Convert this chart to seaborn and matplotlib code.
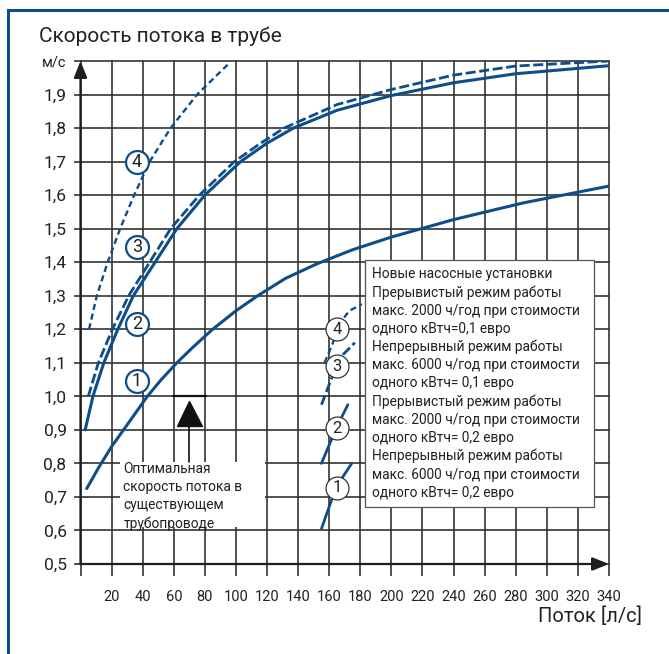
import matplotlib
matplotlib.use("Agg")
import matplotlib.pyplot as plt
from matplotlib.patches import Rectangle
import pandas as pd
import seaborn as sns

sns.set_style("white")
plt.rcParams["font.family"] = ["Roboto", "DejaVu Sans"]

# ---------------- data ----------------
flow_c1 = [4, 12, 20, 30, 43, 52, 62, 72, 85, 100, 114, 132, 152, 175, 200, 240, 285, 340]
speed_c1 = [0.725, 0.79, 0.85, 0.915, 1.00, 1.05, 1.10, 1.145, 1.20, 1.255, 1.30, 1.352,
            1.395, 1.437, 1.475, 1.527, 1.577, 1.627]

flow_c2 = [3, 8, 15, 24, 34, 48, 62, 80, 103, 120, 137, 165, 200, 240, 280, 340]
speed_c2 = [0.90, 1.00, 1.10, 1.20, 1.30, 1.40, 1.50, 1.60, 1.70, 1.755, 1.80, 1.853,
            1.897, 1.935, 1.962, 1.986]

flow_c3 = [5, 11.5, 20.5, 31, 44.5, 58, 76.5, 99, 115, 131, 165, 200, 240, 280, 340]
speed_c3 = [1.00, 1.10, 1.20, 1.30, 1.40, 1.50, 1.60, 1.70, 1.752, 1.80, 1.87, 1.915,
            1.958, 1.985, 2.0]

flow_c4 = [5.5, 10.5, 17.5, 25.5, 34.5, 44.5, 58, 75, 96]
speed_c4 = [1.20, 1.30, 1.40, 1.50, 1.60, 1.70, 1.80, 1.90, 1.995]

new_flow_1 = [155, 164.5, 174.5]
new_speed_1 = [0.605, 0.73, 0.80]
new_flow_2 = [155, 164.5, 172]
new_speed_2 = [0.80, 0.905, 0.975]
new_flow_3 = [155, 162, 169, 176.5]
new_speed_3 = [0.975, 1.06, 1.125, 1.16]
new_flow_4 = [157, 162, 167, 173, 181]
new_speed_4 = [1.10, 1.155, 1.22, 1.255, 1.275]

label_ids = ["1", "2", "3", "4"]
label_flow_left = [36.3, 36.3, 36.3, 36.3]
label_speed_left = [1.047, 1.215, 1.446, 1.70]
label_flow_right = [165, 165, 165, 165]
label_speed_right = [0.728, 0.905, 1.09, 1.20]

optimal_speed = 1.0
optimal_flow_range = [59.5, 80.7]
marker_flow = 69.5
marker_speed = 0.95

x_ticks = list(range(0, 341, 20))
x_tick_labels = [""] + [str(v) for v in range(20, 341, 20)]
y_ticks = [0.5, 0.6, 0.7, 0.8, 0.9, 1.0, 1.1, 1.2, 1.3, 1.4, 1.5, 1.6, 1.7, 1.8, 1.9, 2.0]
y_tick_labels = ["0,5", "0,6", "0,7", "0,8", "0,9", "1,0", "1,1", "1,2", "1,3", "1,4",
                 "1,5", "1,6", "1,7", "1,8", "1,9", "м/с"]

title_text = "Скорость потока в трубе"
xlabel_text = "Поток [л/с]"
legend_lines = [
    "Новые насосные установки",
    "Прерывистый режим работы",
    "макс. 2000 ч/год при стоимости",
    "одного кВтч=0,1 евро",
    "Непрерывный режим работы",
    "макс. 6000 ч/год при стоимости",
    "одного кВтч= 0,1 евро",
    "Прерывистый режим работы",
    "макс. 2000 ч/год при стоимости",
    "одного кВтч= 0,2 евро",
    "Непрерывный режим работы",
    "макс. 6000 ч/год при стоимости",
    "одного кВтч= 0,2 евро",
]
note_lines = ["Оптимальная", "скорость потока в", "существующем", "трубопроводе"]

# ---------------- styling ----------------
BLUE = "#0d4e8a"
GRID = "#333333"
TXT = "#222222"
W, H = 669, 654


def fx(px):
    return px / W


def fy(py):
    return 1 - py / H


fig = plt.figure(figsize=(W / 100, H / 100), dpi=100)
ax = fig.add_axes([fx(80.5), fy(564), (609 - 80.5) / W, (564 - 61) / H])

# outer blue frame
fig.patches.append(Rectangle((fx(8.3), -0.2), 1.5, fy(10.3) + 0.2, transform=fig.transFigure,
                             fill=False, ec=BLUE, lw=2.2))

# curves
SOLID = "-"
LONG = (0, (3.6, 1.3))
SHORT = (0, (2.6, 1.6))
curves = [
    (flow_c1, speed_c1, SOLID, 2.2),
    (flow_c2, speed_c2, SOLID, 2.2),
    (flow_c3, speed_c3, LONG, 2.0),
    (flow_c4, speed_c4, SHORT, 1.7),
    (new_flow_1, new_speed_1, SOLID, 2.0),
    (new_flow_2, new_speed_2, SOLID, 2.0),
    (new_flow_3, new_speed_3, LONG, 2.0),
    (new_flow_4, new_speed_4, SHORT, 1.7),
]
for fxs, sps, ls, lw in curves:
    df = pd.DataFrame({"flow": fxs, "speed": sps})
    sns.lineplot(data=df, x="flow", y="speed", ax=ax, color=BLUE, lw=lw,
                 linestyle=ls, errorbar=None, zorder=3)

ax.set_xlim(0, 340)
ax.set_ylim(0.5, 2.0)
ax.set_xticks(x_ticks)
ax.set_xticklabels(x_tick_labels, fontsize=10.5, color=TXT)
ax.set_yticks(y_ticks)
ax.set_yticklabels(y_tick_labels, fontsize=12.5, color=TXT)
ax.get_yticklabels()[-1].set_fontsize(10.5)
ax.set_xlabel("")
ax.set_ylabel("")
for s in ax.spines.values():
    s.set_visible(False)
ax.set_axisbelow(True)
ax.grid(True, color=GRID, lw=1.2, clip_on=False)
ax.tick_params(axis="x", length=8.6, width=1.2, color=GRID, pad=10, direction="out", bottom=True)
ax.tick_params(axis="y", length=5, width=1.2, color=GRID, pad=5, direction="out", left=True)

# axis arrows
arrow_kw = dict(arrowstyle="-|>,head_length=1.0,head_width=0.4", color="#1e1e1e", lw=1.6,
                shrinkA=0, shrinkB=0, mutation_scale=10)
ax.annotate("", xy=(0, 2.0), xytext=(0, 0.5), arrowprops=arrow_kw, annotation_clip=False, zorder=5)
ax.annotate("", xy=(340, 0.5), xytext=(0, 0.5), arrowprops=arrow_kw, annotation_clip=False, zorder=5)

# white boxes
ax.add_patch(Rectangle((183.0, 0.67), 147.4, 0.737, fc="white", ec="#555555", lw=0.9, zorder=1.5))
ax.add_patch(Rectangle((25.4, 0.611), 93.2, 0.194, fc="white", ec="none", zorder=1.5))

# optimal speed marker
ax.plot(optimal_flow_range, [optimal_speed, optimal_speed], color="#111111", lw=1.6, zorder=4)
ax.plot([marker_flow], [marker_speed], marker="^", ms=18, color="#111111", ls="none", zorder=4)
ax.plot([marker_flow, marker_flow], [0.9115, 0.805], color="#111111", lw=1.2, zorder=4)

# circled labels
ax.plot(label_flow_left, label_speed_left, ls="none", marker="o", ms=16.5, mfc="white",
        mec=BLUE, mew=1.6, zorder=6)
ax.plot(label_flow_right, label_speed_right, ls="none", marker="o", ms=16.5, mfc="white",
        mec="#333333", mew=0.9, zorder=6)
for lid, xl, yl in zip(label_ids, label_flow_left, label_speed_left):
    ax.text(xl, yl, lid, ha="center", va="center", fontsize=13, color=TXT, zorder=7)
for lid, xl, yl in zip(label_ids, label_flow_right, label_speed_right):
    ax.text(xl, yl, lid, ha="center", va="center", fontsize=12, color=TXT, zorder=7)

# texts
fig.text(fx(39), fy(41.7), title_text, fontsize=15, color=TXT, va="baseline", ha="left")
fig.text(fx(641.7), fy(621.7), xlabel_text, fontsize=14.5, color=TXT, va="baseline", ha="right")
for i, line in enumerate(legend_lines):
    fig.text(fx(371.7), fy(278.3 + i * 18.2), line, fontsize=9.9, color=TXT, va="baseline", ha="left")
for i, line in enumerate(note_lines):
    fig.text(fx(123.3), fy(473.3 + i * 18.1), line, fontsize=9.9, color=TXT, va="baseline", ha="left")

fig.savefig("out.png", dpi=100)
